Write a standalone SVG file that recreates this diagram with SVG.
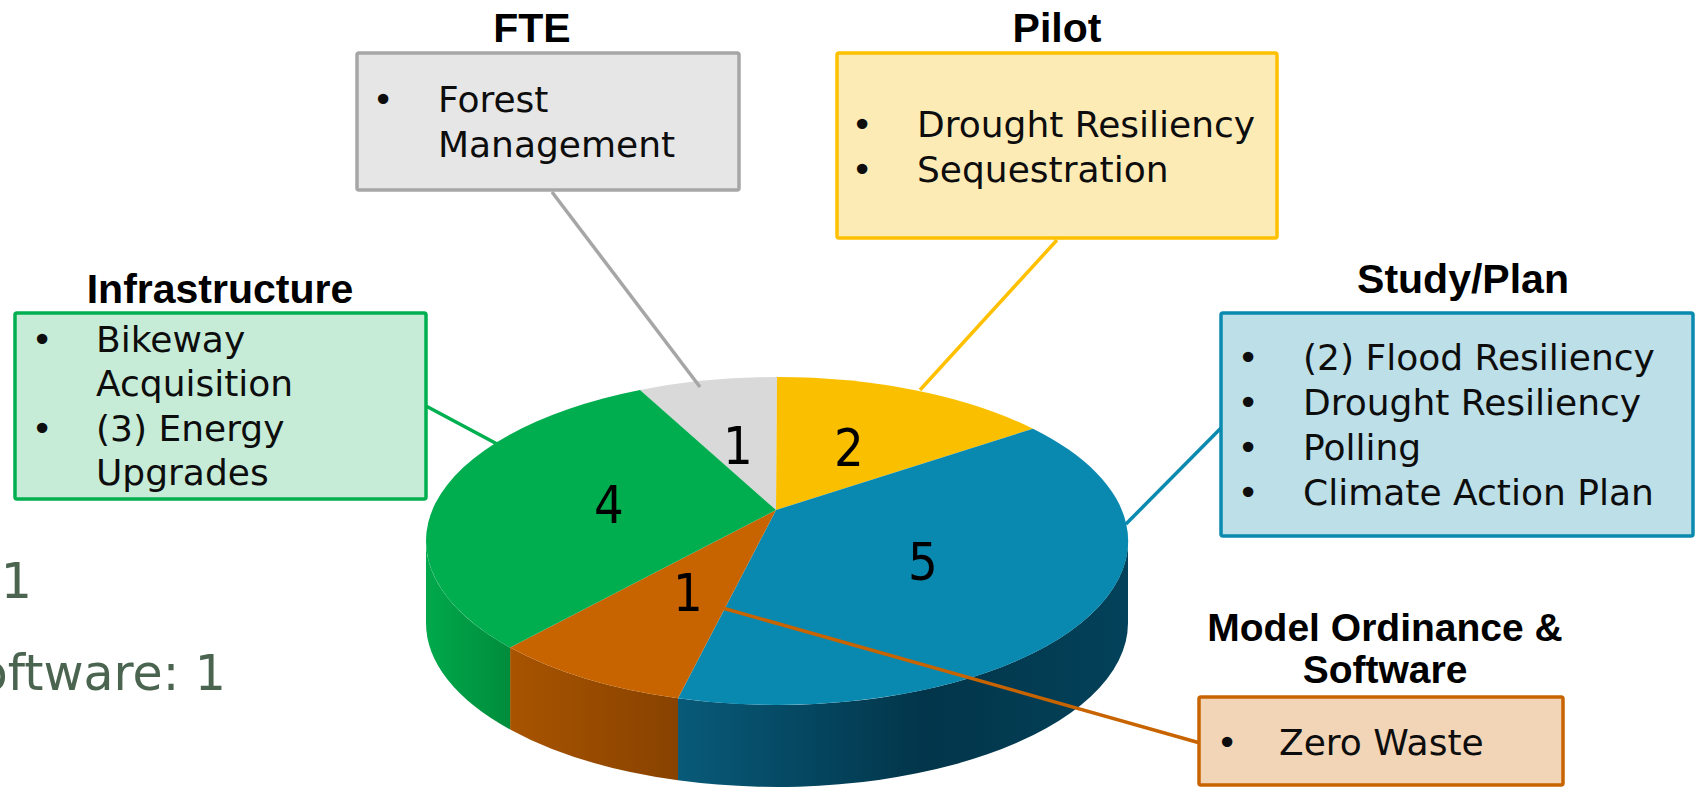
<svg xmlns="http://www.w3.org/2000/svg" width="1701" height="793" viewBox="0 0 1701 793">
  <defs>
    <style>
      .title { font-family: "Liberation Sans", Arial, sans-serif; font-weight: bold; font-size: 41px; fill: #000; text-anchor: middle; }
      .body { font-family: "DejaVu Sans", "Liberation Sans", sans-serif; font-size: 36px; fill: #0d0d0d; }
      .bullet { font-family: "DejaVu Sans", "Liberation Sans", sans-serif; font-size: 36px; fill: #0d0d0d; text-anchor: middle; }
      .val { font-family: "DejaVu Sans Condensed", "DejaVu Sans", "Liberation Sans", sans-serif; font-size: 52px; fill: #000; text-anchor: middle; }
      .bg { font-family: "DejaVu Sans", "Liberation Sans", sans-serif; font-size: 49px; fill: #4a6450; text-anchor: end; }
      .box { stroke-width: 3.5; }
      .conn { fill: none; stroke-width: 3.5; }
    </style>
    <linearGradient id="gBlueSide" gradientUnits="userSpaceOnUse" x1="678" y1="0" x2="1128" y2="0">
      <stop offset="0" stop-color="#085a79"/>
      <stop offset="0.55" stop-color="#02354a"/>
      <stop offset="1" stop-color="#03425a"/>
    </linearGradient>
    <linearGradient id="gOrangeSide" gradientUnits="userSpaceOnUse" x1="510" y1="0" x2="678" y2="0">
      <stop offset="0" stop-color="#a85400"/>
      <stop offset="1" stop-color="#884200"/>
    </linearGradient>
    <linearGradient id="gGreenSide" gradientUnits="userSpaceOnUse" x1="426" y1="0" x2="510" y2="0">
      <stop offset="0" stop-color="#00a94c"/>
      <stop offset="1" stop-color="#008c3b"/>
    </linearGradient>
  </defs>

  <rect width="1701" height="793" fill="#ffffff"/>

  <!-- background slide text, clipped at left edge as in the reference -->
  <g id="background-text">
    <text class="bg" x="32" y="598">1</text>
    <text class="bg" x="226" y="690">oftware: 1</text>
  </g>

  <!-- 3D pie chart -->
  <g id="pie">
    <path d="M1128,541 A351,164 0 0 1 678,698.3 L678,780.3 A351,164 0 0 0 1128,623 Z" fill="url(#gBlueSide)"/>
    <path d="M678,698.3 A351,164 0 0 1 510.1,647.5 L510.1,729.5 A351,164 0 0 0 678,780.3 Z" fill="url(#gOrangeSide)"/>
    <path d="M510.1,647.5 A351,164 0 0 1 426,541 L426,623 A351,164 0 0 0 510.1,729.5 Z" fill="url(#gGreenSide)"/>

    <path id="slice-fte" d="M776,510 L640,390 A351,164 0 0 1 777,377 Z" fill="#d9d9d9"/>
    <path id="slice-pilot" d="M776,510 L777,377 A351,164 0 0 1 1033,428.7 Z" fill="#fac000"/>
    <path id="slice-study" d="M776,510 L1033,428.7 A351,164 0 0 1 678,698.3 Z" fill="#0a89b0"/>
    <path id="slice-model" d="M776,510 L678,698.3 A351,164 0 0 1 510.1,647.5 Z" fill="#c86400"/>
    <path id="slice-infra" d="M776,510 L510.1,647.5 A351,164 0 0 1 640,390 Z" fill="#00ad4f"/>

    <text class="val" x="738" y="464">1</text>
    <text class="val" x="849" y="466">2</text>
    <text class="val" x="609" y="523">4</text>
    <text class="val" x="923" y="580">5</text>
    <text class="val" x="688" y="611">1</text>
  </g>

  <!-- connectors -->
  <g id="connectors">
    <line class="conn" x1="552" y1="192" x2="700" y2="387" stroke="#a6a6a6"/>
    <line class="conn" x1="1057" y1="240" x2="920" y2="390" stroke="#ffc000"/>
    <line class="conn" x1="426" y1="406" x2="499" y2="445" stroke="#00b050"/>
    <line class="conn" x1="1221" y1="428" x2="1126" y2="524" stroke="#0b8ab0"/>
    <line class="conn" x1="1200" y1="743" x2="719" y2="607" stroke="#c86400"/>
  </g>

  <!-- FTE -->
  <g id="fte">
    <text class="title" x="532" y="42">FTE</text>
    <rect class="box" x="357" y="53" width="382" height="137" rx="2" fill="#e6e6e6" stroke="#a6a6a6"/>
    <text class="bullet" x="383" y="112">•</text>
    <text class="body" x="438" y="112">Forest</text>
    <text class="body" x="438" y="157">Management</text>
  </g>

  <!-- Pilot -->
  <g id="pilot">
    <text class="title" x="1057" y="42">Pilot</text>
    <rect class="box" x="837" y="53" width="440" height="185" rx="2" fill="#fdebb6" stroke="#ffc000"/>
    <text class="bullet" x="862" y="137">•</text>
    <text class="body" x="917" y="137">Drought Resiliency</text>
    <text class="bullet" x="862" y="182">•</text>
    <text class="body" x="917" y="182">Sequestration</text>
  </g>

  <!-- Infrastructure -->
  <g id="infrastructure">
    <text class="title" x="220" y="303">Infrastructure</text>
    <rect class="box" x="15" y="313" width="411" height="186" rx="2" fill="#c6ecd8" stroke="#00b050"/>
    <text class="bullet" x="42" y="352">•</text>
    <text class="body" x="96" y="352">Bikeway</text>
    <text class="body" x="96" y="396">Acquisition</text>
    <text class="bullet" x="42" y="441">•</text>
    <text class="body" x="96" y="441">(3) Energy</text>
    <text class="body" x="96" y="485">Upgrades</text>
  </g>

  <!-- Study/Plan -->
  <g id="study-plan">
    <text class="title" x="1463" y="293">Study/Plan</text>
    <rect class="box" x="1221" y="313" width="472" height="223" rx="2" fill="#bcdfe8" stroke="#0b8ab0"/>
    <text class="bullet" x="1248" y="370">•</text>
    <text class="body" x="1303" y="370">(2) Flood Resiliency</text>
    <text class="bullet" x="1248" y="415">•</text>
    <text class="body" x="1303" y="415">Drought Resiliency</text>
    <text class="bullet" x="1248" y="460">•</text>
    <text class="body" x="1303" y="460">Polling</text>
    <text class="bullet" x="1248" y="505">•</text>
    <text class="body" x="1303" y="505">Climate Action Plan</text>
  </g>

  <!-- Model Ordinance & Software -->
  <g id="model-ordinance">
    <text class="title" x="1385" y="641" style="font-size:39px">Model Ordinance &amp;</text>
    <text class="title" x="1385" y="683" style="font-size:39px">Software</text>
    <rect class="box" x="1199" y="697" width="364" height="88" rx="2" fill="#f2d5b7" stroke="#c86400"/>
    <text class="bullet" x="1227" y="755">•</text>
    <text class="body" x="1279" y="755">Zero Waste</text>
  </g>
</svg>
